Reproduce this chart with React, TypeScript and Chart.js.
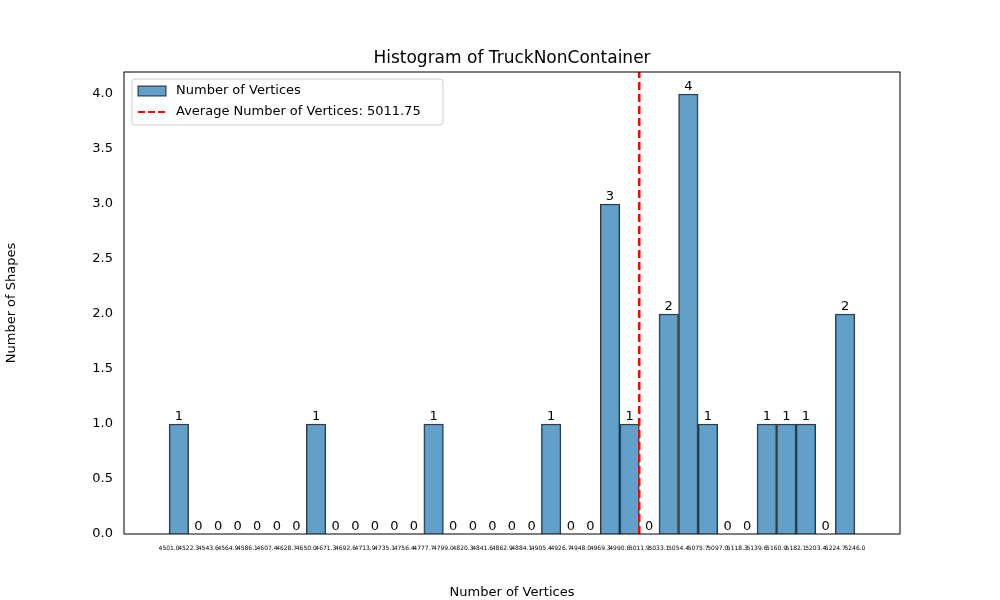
import React, { useEffect, useRef } from "react";
import { Chart, registerables } from "chart.js";
Chart.register(...registerables);

const binEdges = [4501.0,4522.3,4543.6,4564.9,4586.1,4607.4,4628.7,4650.0,4671.3,4692.6,4713.9,4735.1,4756.4,4777.7,4799.0,4820.3,4841.6,4862.9,4884.1,4905.4,4926.7,4948.0,4969.3,4990.6,5011.9,5033.1,5054.4,5075.7,5097.0,5118.3,5139.6,5160.9,5182.1,5203.4,5224.7,5246.0];
const counts = [1,0,0,0,0,0,0,1,0,0,0,0,0,1,0,0,0,0,0,1,0,0,3,1,0,2,4,1,0,0,1,1,1,0,2];
const average = 5011.75;
const yTicks = [0,0.5,1,1.5,2,2.5,3,3.5,4];

export default function App() {
  const ref = useRef<HTMLCanvasElement>(null);
  useEffect(() => {
    document.body.style.margin = "0";
    const F = "DejaVu Sans";
    const lo = binEdges[0], hi = binEdges[binEdges.length - 1];
    const pad = (hi - lo) * 0.05;
    const barData = counts.map((c, i) => ({ x: (binEdges[i] + binEdges[i + 1]) / 2, y: c }));
    const overlay = {
      id: "overlay",
      afterDraw(chart: any) {
        const { ctx, chartArea: a, scales } = chart;
        ctx.save();
        ctx.strokeStyle = "#000"; ctx.lineWidth = 1;
        ctx.strokeRect(a.left, a.top, a.right - a.left, a.bottom - a.top);
        ctx.fillStyle = "#000";
        ctx.font = `17px ${F}`; ctx.textAlign = "center"; ctx.textBaseline = "bottom";
        ctx.fillText("Histogram of TruckNonContainer", (a.left + a.right) / 2, 67);
        ctx.font = `13px ${F}`;
        barData.forEach((d) => {
          ctx.fillText(String(d.y), scales.x.getPixelForValue(d.x), scales.y.getPixelForValue(d.y) - 1);
        });
        // legend
        const lx = a.left + 8, ly = a.top + 7;
        ctx.fillStyle = "rgba(255,255,255,0.8)"; ctx.strokeStyle = "#ccc";
        ctx.beginPath(); ctx.roundRect(lx, ly, 311, 46, 3); ctx.fill(); ctx.stroke();
        ctx.fillStyle = "rgba(31,119,180,0.7)"; ctx.strokeStyle = "rgba(0,0,0,0.8)";
        ctx.fillRect(lx + 6, ly + 7, 28, 10); ctx.strokeRect(lx + 6, ly + 7, 28, 10);
        ctx.strokeStyle = "red"; ctx.lineWidth = 2; ctx.setLineDash([7, 3]);
        ctx.beginPath(); ctx.moveTo(lx + 6, ly + 33); ctx.lineTo(lx + 34, ly + 33); ctx.stroke();
        ctx.setLineDash([]);
        ctx.fillStyle = "#000"; ctx.textAlign = "left"; ctx.textBaseline = "middle";
        ctx.fillText("Number of Vertices", lx + 44, ly + 12);
        ctx.fillText(`Average Number of Vertices: ${average}`, lx + 44, ly + 33);
        ctx.restore();
      },
    };
    const chart = new Chart(ref.current!, {
      type: "bar",
      data: {
        datasets: [
          {
            type: "bar", data: barData as any,
            backgroundColor: "rgba(31,119,180,0.7)", borderColor: "rgba(0,0,0,0.8)", borderWidth: 1,
            barPercentage: 1, categoryPercentage: 1, grouped: false, order: 2,
          },
          {
            type: "line", data: [{ x: average, y: 0 }, { x: average, y: 4.2 }] as any,
            borderColor: "red", borderWidth: 2.5, borderDash: [8, 4], pointRadius: 0, order: 1,
          },
        ],
      },
      options: {
        animation: false, responsive: false,
        layout: { padding: { top: 72, right: 100, left: 0, bottom: 0 } },
        plugins: { legend: { display: false }, tooltip: { enabled: false } },
        scales: {
          x: {
            type: "linear", min: lo - pad, max: hi + pad,
            grid: { display: false }, border: { display: false },
            afterBuildTicks: (s: any) => { s.ticks = binEdges.map((v) => ({ value: v })); },
            afterFit: (s: any) => { s.height = 66; },
            ticks: { autoSkip: false, maxRotation: 0, color: "#000", font: { size: 6, family: F }, callback: (v: any) => Number(v).toFixed(1) },
            title: { display: true, text: "Number of Vertices", color: "#000", font: { size: 13, family: F }, padding: 0 },
          },
          y: {
            min: 0, max: 4.2,
            grid: { display: false, drawTicks: true }, border: { display: false },
            afterBuildTicks: (s: any) => { s.ticks = yTicks.map((v) => ({ value: v })); },
            afterFit: (s: any) => { s.width = 124; },
            ticks: { color: "#000", font: { size: 13, family: F }, callback: (v: any) => Number(v).toFixed(1) },
            title: { display: true, text: "Number of Shapes", color: "#000", font: { size: 13, family: F } },
          },
        },
      },
      plugins: [overlay],
    } as any);
    return () => chart.destroy();
  }, []);
  return <canvas ref={ref} width={1000} height={600} style={{ display: "block" }} />;
}
